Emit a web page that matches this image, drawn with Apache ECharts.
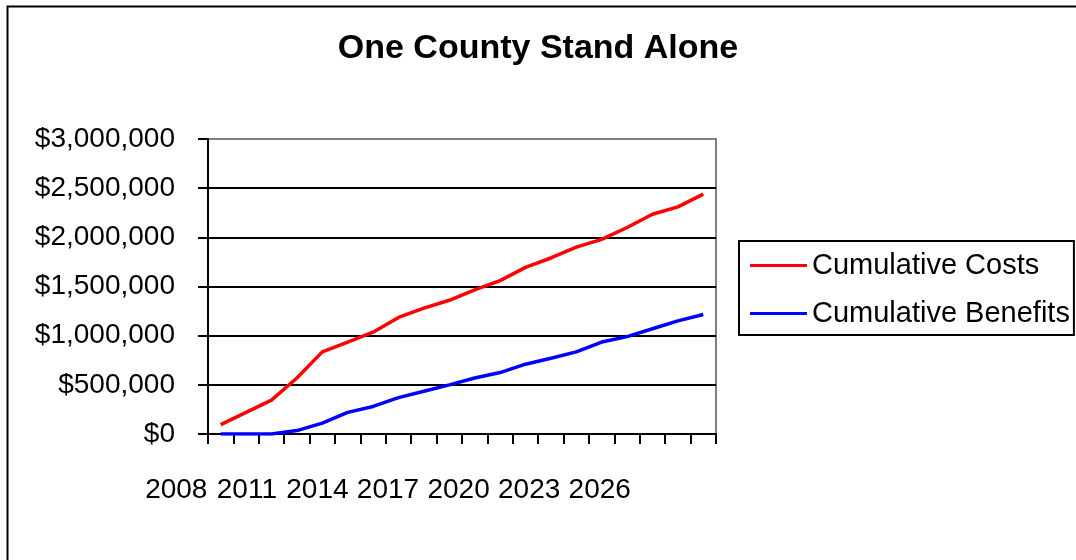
<!DOCTYPE html>
<html>
<head>
<meta charset="utf-8">
<script src="https://cdn.jsdelivr.net/npm/echarts@6/dist/echarts.min.js"></script>
<style>
html,body{margin:0;padding:0;background:#fff;}
#chart{width:1076px;height:560px;}
</style>
</head>
<body>
<div id="chart"></div>
<script>
const years = ['2008','2009','2010','2011','2012','2013','2014','2015','2016','2017',
               '2018','2019','2020','2021','2022','2023','2024','2025','2026','2027'];
const tickLabels = ['2008','2011','2014','2017','2020','2023','2026'];
const cumulativeCosts = [95000, 220000, 345000, 570000, 835000, 935000, 1035000, 1185000, 1280000, 1360000,
                         1465000, 1560000, 1695000, 1790000, 1900000, 1980000, 2100000, 2235000, 2310000, 2440000];
const cumulativeBenefits = [0, 0, 0, 35000, 110000, 220000, 280000, 370000, 435000, 500000,
                            570000, 625000, 710000, 770000, 835000, 935000, 990000, 1070000, 1150000, 1215000];
const seriesNames = ['Cumulative Costs', 'Cumulative Benefits'];

const FONT = "'Liberation Sans', Arial, sans-serif";
function money(v){
  const s = String(Math.round(v));
  return '$' + s.replace(/\B(?=(\d{3})+(?!\d))/g, ',');
}

const chart = echarts.init(document.getElementById('chart'), null, {renderer:'canvas'});
chart.setOption({
  backgroundColor: '#fff',
  animation: false,
  textStyle: {fontFamily: FONT},
  graphic: [{
    type: 'rect', left: 5, top: 4, silent: true,
    shape: {width: 1200, height: 700},
    style: {fill: 'none', stroke: '#000', lineWidth: 2}
  }],
  title: {
    text: 'One County Stand Alone',
    left: 'center', top: 27,
    textStyle: {fontFamily: FONT, fontSize: 34, fontWeight: 'bold', color: '#000'}
  },
  legend: {
    orient: 'vertical',
    left: 739, top: 241,
    padding: [10, 4, 7, 11],
    itemGap: 19,
    itemWidth: 57, itemHeight: 3,
    icon: 'rect',
    borderColor: '#000', borderWidth: 2,
    textStyle: {fontFamily: FONT, fontSize: 29, color: '#000'},
    data: seriesNames
  },
  grid: [
    {left: 208, right: 360, top: 139, bottom: 126, show: true, borderColor: '#808080', borderWidth: 2},
    {left: 141, width: 494, top: 139, bottom: 126, show: false}
  ],
  xAxis: [
    {
      type: 'category', gridIndex: 0, data: years, boundaryGap: true,
      axisLine: {lineStyle: {color: '#000', width: 2}},
      axisTick: {show: true, interval: 0, length: 10, lineStyle: {color: '#000', width: 2}},
      axisLabel: {show: false}
    },
    {
      type: 'category', gridIndex: 1, data: tickLabels, boundaryGap: true,
      axisLine: {show: false}, axisTick: {show: false},
      axisLabel: {interval: 0, margin: 42, fontFamily: FONT, fontSize: 28, color: '#000'}
    }
  ],
  yAxis: [
    {
      type: 'value', gridIndex: 0, min: 0, max: 3000000, interval: 500000,
      axisLine: {show: true, lineStyle: {color: '#000', width: 2}},
      axisTick: {show: true, length: 10, lineStyle: {color: '#000', width: 2}},
      splitLine: {show: true, showMaxLine: false, lineStyle: {color: '#000', width: 2}},
      axisLabel: {margin: 33, fontFamily: FONT, fontSize: 28, color: '#000', formatter: money}
    },
    {type: 'value', gridIndex: 1, show: false}
  ],
  series: [
    {
      name: seriesNames[0], type: 'line', xAxisIndex: 0, yAxisIndex: 0,
      data: cumulativeCosts, symbol: 'none', smooth: false,
      itemStyle: {color: '#ff0000'},
      lineStyle: {color: '#ff0000', width: 3.5}
    },
    {
      name: seriesNames[1], type: 'line', xAxisIndex: 0, yAxisIndex: 0,
      data: cumulativeBenefits, symbol: 'none', smooth: false,
      itemStyle: {color: '#0000ff'},
      lineStyle: {color: '#0000ff', width: 3.5}
    }
  ]
});
</script>
</body>
</html>
